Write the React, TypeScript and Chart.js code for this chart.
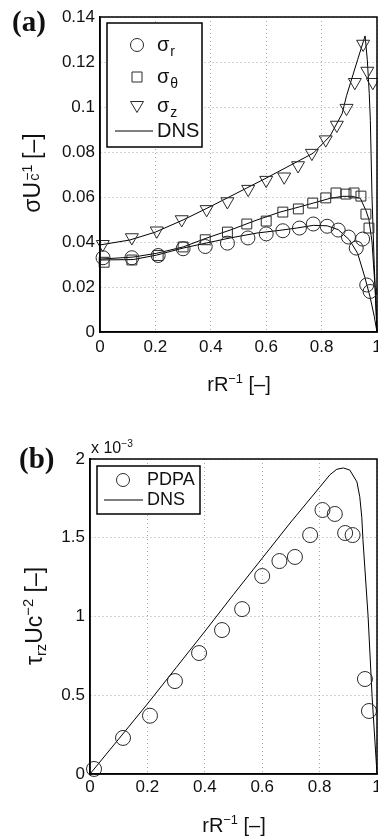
import React, { useEffect, useRef } from "react";
import { Chart, registerables } from "chart.js";

Chart.register(...registerables);

const FONT = "'Liberation Sans', Arial, Helvetica, sans-serif";
const SERIF = "'Liberation Serif', 'Times New Roman', serif";

// ---------- Panel (a): normal stresses ----------
const xTicks = [0, 0.2, 0.4, 0.6, 0.8, 1];
const yTicksA = [0, 0.02, 0.04, 0.06, 0.08, 0.1, 0.12, 0.14];

const rSigmaR = [0.011, 0.115, 0.21, 0.3, 0.38, 0.46, 0.534, 0.6, 0.66, 0.72, 0.77, 0.82, 0.86, 0.897, 0.925, 0.948, 0.963, 0.975];
const sigmaR = [0.033, 0.033, 0.034, 0.037, 0.038, 0.0395, 0.0418, 0.0436, 0.045, 0.0462, 0.048, 0.047, 0.0453, 0.0422, 0.0373, 0.0413, 0.0209, 0.018];

const rSigmaTheta = [0.015, 0.115, 0.21, 0.3, 0.38, 0.46, 0.53, 0.6, 0.66, 0.716, 0.768, 0.815, 0.852, 0.888, 0.917, 0.942, 0.96, 0.971];
const sigmaTheta = [0.031, 0.032, 0.034, 0.0378, 0.041, 0.0444, 0.048, 0.0493, 0.0533, 0.0547, 0.0573, 0.0596, 0.0618, 0.0613, 0.0618, 0.0604, 0.0524, 0.0462];

const rSigmaZ = [0.01, 0.115, 0.205, 0.295, 0.385, 0.46, 0.535, 0.6, 0.665, 0.715, 0.765, 0.815, 0.855, 0.89, 0.92, 0.95, 0.965, 0.985];
const sigmaZ = [0.039, 0.042, 0.045, 0.05, 0.0545, 0.058, 0.0635, 0.0675, 0.069, 0.074, 0.0795, 0.0855, 0.092, 0.0995, 0.111, 0.128, 0.116, 0.111];

const rDnsR = [0, 0.12, 0.205, 0.3, 0.386, 0.47, 0.567, 0.65, 0.71, 0.77, 0.82, 0.86, 0.9, 0.93, 0.956, 0.975, 0.99, 1.0];
const dnsSigmaR = [0.032, 0.0322, 0.0342, 0.0373, 0.0396, 0.0418, 0.044, 0.0452, 0.0462, 0.0474, 0.0472, 0.0455, 0.041, 0.035, 0.0244, 0.0156, 0.007, 0];

const rDnsTheta = [0, 0.12, 0.205, 0.3, 0.386, 0.47, 0.567, 0.65, 0.72, 0.77, 0.83, 0.877, 0.91, 0.94, 0.96, 0.971, 0.982, 0.993, 1.0];
const dnsSigmaTheta = [0.0324, 0.0333, 0.035, 0.0378, 0.0418, 0.0453, 0.0498, 0.0533, 0.0556, 0.0573, 0.0594, 0.0603, 0.0603, 0.0594, 0.054, 0.05, 0.04, 0.02, 0];

const rDnsZ = [0, 0.108, 0.2, 0.3, 0.386, 0.46, 0.53, 0.6, 0.675, 0.77, 0.83, 0.874, 0.89, 0.93, 0.957, 0.965, 0.972, 0.976, 0.982, 0.99, 1.0];
const dnsSigmaZ = [0.0387, 0.0409, 0.0444, 0.0498, 0.055, 0.0596, 0.064, 0.0684, 0.0733, 0.0795, 0.087, 0.097, 0.105, 0.121, 0.1316, 0.121, 0.106, 0.094, 0.06, 0.03, 0];

// ---------- Panel (b): shear stress (values in units of 1e-3) ----------
const yTicksB = [0, 0.5, 1, 1.5, 2];
const rPdpa = [0.014, 0.115, 0.209, 0.296, 0.38, 0.46, 0.53, 0.6, 0.66, 0.714, 0.767, 0.81, 0.853, 0.889, 0.915, 0.958, 0.972];
const tauPdpa = [0.032, 0.229, 0.37, 0.59, 0.768, 0.914, 1.047, 1.257, 1.352, 1.378, 1.517, 1.676, 1.651, 1.53, 1.517, 0.603, 0.4];
const rDnsB = [0, 0.1, 0.2, 0.3, 0.4, 0.5, 0.6, 0.7, 0.8, 0.836, 0.86, 0.883, 0.905, 0.93, 0.94, 0.947, 0.951, 0.969, 0.983, 1.0];
const tauDns = [0, 0.222, 0.445, 0.675, 0.905, 1.14, 1.37, 1.6, 1.82, 1.9, 1.935, 1.943, 1.93, 1.855, 1.76, 1.63, 1.49, 1.0, 0.49, 0];

const pts = (xs: number[], ys: number[]) => xs.map((x, i) => ({ x, y: ys[i] }));
const fmt = (v: number) => String(Number(v.toFixed(3)));

const markerColor = "#2a2a2a";

const markerSet = (label: string, data: any[], style: string, radius: number, rotation = 0) => ({
  label,
  data,
  showLine: false,
  pointStyle: style,
  pointRadius: radius,
  pointRotation: rotation,
  pointBorderColor: markerColor,
  pointBackgroundColor: "rgba(0,0,0,0)",
  pointBorderWidth: 1,
  clip: false,
});

const lineSet = (label: string, data: any[]) => ({
  label,
  data,
  showLine: true,
  borderColor: "#000",
  borderWidth: 1,
  pointRadius: 0,
  tension: 0,
  clip: false,
});

const framePlugin = {
  id: "frame",
  afterDatasetsDraw(chart: any) {
    const { ctx, chartArea } = chart;
    const { left, top, right, bottom } = chartArea;
    ctx.save();
    ctx.strokeStyle = "#000";
    ctx.lineWidth = 1.5;
    ctx.strokeRect(left, top, right - left, bottom - top);
    ctx.restore();
  },
};

const legendPlugin = {
  id: "innerLegend",
  afterDraw(chart: any, _args: any, opts: any) {
    const { ctx } = chart;
    if (!opts || !opts.entries) return;
    const { box, markerX, lineX0, lineX1, textX, entries, fontSize } = opts;
    ctx.save();
    ctx.fillStyle = "#fff";
    ctx.fillRect(box.x, box.y, box.w, box.h);
    ctx.strokeStyle = "#000";
    ctx.lineWidth = 1.5;
    ctx.strokeRect(box.x, box.y, box.w, box.h);
    for (const e of entries) {
      ctx.strokeStyle = markerColor;
      ctx.lineWidth = 1;
      ctx.beginPath();
      if (e.marker === "circle") {
        ctx.arc(markerX, e.y, 6.5, 0, Math.PI * 2);
      } else if (e.marker === "rect") {
        ctx.rect(markerX - 5, e.y - 5, 10, 10);
      } else if (e.marker === "triangle") {
        ctx.moveTo(markerX - 6.5, e.y - 4.5);
        ctx.lineTo(markerX + 6.5, e.y - 4.5);
        ctx.lineTo(markerX, e.y + 6.5);
        ctx.closePath();
      } else {
        ctx.strokeStyle = "#000";
        ctx.moveTo(lineX0, e.y);
        ctx.lineTo(lineX1, e.y);
      }
      ctx.stroke();
      ctx.fillStyle = "#111";
      ctx.font = `${fontSize}px ${FONT}`;
      ctx.textBaseline = "middle";
      ctx.textAlign = "left";
      ctx.fillText(e.text, textX, e.y);
      if (e.sub) {
        const w = ctx.measureText(e.text).width;
        ctx.font = `${Math.round(fontSize * 0.68)}px ${FONT}`;
        ctx.textBaseline = "alphabetic";
        ctx.fillText(e.sub, textX + w + 1, e.y + 11);
      }
    }
    ctx.restore();
  },
};

function axes(yTicks: number[], yMax: number, yWidth: number, xPad: number) {
  const tickFont = { family: FONT, size: 17 };
  const grid = { color: "#a8a8a8", lineWidth: 1, drawTicks: false };
  const border = { display: true, color: "#000", width: 1.5, dash: [1, 3] };
  return {
    x: {
      type: "linear",
      min: 0,
      max: 1,
      afterBuildTicks: (s: any) => {
        s.ticks = xTicks.map((v) => ({ value: v }));
      },
      afterFit: (s: any) => {
        s.height = 40;
      },
      ticks: { font: tickFont, color: "#111", padding: xPad, maxRotation: 0, autoSkip: false, callback: (v: any) => fmt(Number(v)) },
      grid,
      border,
    },
    y: {
      type: "linear",
      min: 0,
      max: yMax,
      afterBuildTicks: (s: any) => {
        s.ticks = yTicks.map((v) => ({ value: v }));
      },
      afterFit: (s: any) => {
        s.width = yWidth;
      },
      ticks: { font: tickFont, color: "#111", padding: 5, autoSkip: false, callback: (v: any) => fmt(Number(v)) },
      grid,
      border,
    },
  };
}

const configA: any = {
  type: "scatter",
  data: {
    datasets: [
      markerSet("σr", pts(rSigmaR, sigmaR), "circle", 7),
      markerSet("σθ", pts(rSigmaTheta, sigmaTheta), "rect", 7),
      markerSet("σz", pts(rSigmaZ, sigmaZ), "triangle", 7.5, 180),
      lineSet("DNS", pts(rDnsR, dnsSigmaR)),
      lineSet("DNS θ", pts(rDnsTheta, dnsSigmaTheta)),
      lineSet("DNS z", pts(rDnsZ, dnsSigmaZ)),
    ],
  },
  options: {
    responsive: false,
    animation: false,
    devicePixelRatio: 1,
    layout: { padding: { left: 0, top: 17, right: 23, bottom: 28 } },
    scales: axes(yTicksA, 0.14, 100, 5),
    plugins: {
      legend: { display: false },
      tooltip: { enabled: false },
      innerLegend: {
        box: { x: 107, y: 23, w: 95, h: 124 },
        markerX: 137,
        lineX0: 115,
        lineX1: 153,
        textX: 157,
        fontSize: 20,
        entries: [
          { marker: "circle", y: 45, text: "σ", sub: "r" },
          { marker: "rect", y: 77, text: "σ", sub: "θ" },
          { marker: "triangle", y: 106, text: "σ", sub: "z" },
          { marker: "line", y: 131, text: "DNS" },
        ],
      },
    },
  },
  plugins: [framePlugin, legendPlugin],
};

const configB: any = {
  type: "scatter",
  data: {
    datasets: [markerSet("PDPA", pts(rPdpa, tauPdpa), "circle", 7.5), lineSet("DNS", pts(rDnsB, tauDns))],
  },
  options: {
    responsive: false,
    animation: false,
    devicePixelRatio: 1,
    layout: { padding: { left: 0, top: 39, right: 23, bottom: 25 } },
    scales: axes(yTicksB, 2, 90, 3),
    plugins: {
      legend: { display: false },
      tooltip: { enabled: false },
      innerLegend: {
        box: { x: 97, y: 46, w: 103, h: 48 },
        markerX: 123,
        lineX0: 104,
        lineX1: 143,
        textX: 147,
        fontSize: 18,
        entries: [
          { marker: "circle", y: 60, text: "PDPA" },
          { marker: "line", y: 80, text: "DNS" },
        ],
      },
    },
  },
  plugins: [framePlugin, legendPlugin],
};

const SubSup = ({ sub, sup }: { sub: string; sup: string }) => (
  <span style={{ display: "inline-block", position: "relative", width: "0.72em", height: "1em" }}>
    <span style={{ position: "absolute", left: 1, bottom: "0.38em", fontSize: "0.62em", lineHeight: 1, whiteSpace: "nowrap" }}>{sup}</span>
    <span style={{ position: "absolute", left: 1, top: "0.72em", fontSize: "0.62em", lineHeight: 1, whiteSpace: "nowrap" }}>{sub}</span>
  </span>
);

const Sup = ({ children }: { children: any }) => (
  <span style={{ fontSize: "0.64em", verticalAlign: "0.6em", lineHeight: 0 }}>{children}</span>
);
const Sub = ({ children }: { children: any }) => (
  <span style={{ fontSize: "0.64em", verticalAlign: "-0.3em", lineHeight: 0 }}>{children}</span>
);

const textBase: any = { position: "absolute", fontFamily: FONT, color: "#111", whiteSpace: "nowrap" };

export default function App() {
  const refA = useRef<HTMLCanvasElement>(null);
  const refB = useRef<HTMLCanvasElement>(null);

  useEffect(() => {
    const a = new Chart(refA.current as HTMLCanvasElement, configA);
    const b = new Chart(refB.current as HTMLCanvasElement, configB);
    return () => {
      a.destroy();
      b.destroy();
    };
  }, []);

  return (
    <div style={{ position: "fixed", left: 0, top: 0, width: 378, height: 839, overflow: "hidden", background: "#fff" }}>
      <canvas ref={refA} width={400} height={400} style={{ position: "absolute", left: 0, top: 0, width: 400, height: 400 }} />
      <canvas ref={refB} width={400} height={419} style={{ position: "absolute", left: 0, top: 420, width: 400, height: 419 }} />

      {/* panel labels */}
      <div style={{ ...textBase, fontFamily: SERIF, fontWeight: "bold", fontSize: 29, lineHeight: "29px", left: 12, top: 7 }}>(a)</div>
      <div style={{ ...textBase, fontFamily: SERIF, fontWeight: "bold", fontSize: 29, lineHeight: "29px", left: 19, top: 444 }}>(b)</div>

      {/* multiplier */}
      <div style={{ ...textBase, fontSize: 16, lineHeight: "16px", left: 91, top: 440 }}>
        x 10<Sup>−3</Sup>
      </div>

      {/* x titles */}
      <div style={{ ...textBase, fontSize: 20, lineHeight: "20px", left: 139, width: 200, textAlign: "center", top: 374 }}>
        rR<Sup>−1</Sup> [–]
      </div>
      <div style={{ ...textBase, fontSize: 20, lineHeight: "20px", left: 134, width: 200, textAlign: "center", top: 815 }}>
        rR<Sup>−1</Sup> [–]
      </div>

      {/* y titles */}
      <div
        style={{ ...textBase, fontSize: 23, lineHeight: "30px", height: 30, width: 300, textAlign: "center", left: 32 - 150, top: 173 - 15, transform: "rotate(-90deg)" }}
      >
        σU<SubSup sub="c" sup="−1" /> [–]
      </div>
      <div
        style={{ ...textBase, fontSize: 23, lineHeight: "30px", height: 30, width: 300, textAlign: "center", left: 34 - 150, top: 616 - 15, transform: "rotate(-90deg)" }}
      >
        τ<Sub>rz</Sub>Uc<Sup>−2</Sup> [–]
      </div>
    </div>
  );
}
